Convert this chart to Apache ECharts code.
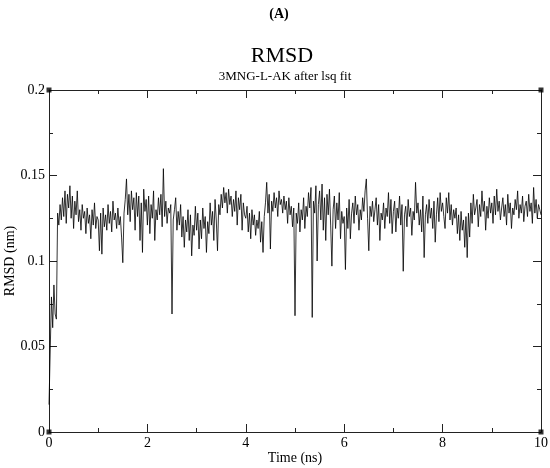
<!DOCTYPE html>
<html>
<head>
<meta charset="utf-8">
<script src="https://cdn.jsdelivr.net/npm/echarts@6/dist/echarts.min.js"></script>
<style>
  html, body { margin: 0; padding: 0; background: #fff; }
  #chart { width: 550px; height: 468px; }
</style>
</head>
<body>
<div id="chart"></div>
<script>
// RMSD trace, one value every 0.025 ns (one row = 1 ns)
const timeStep = 0.025;
const rmsd = [
  0.016, 0.048, 0.079, 0.061, 0.086, 0.069, 0.066, 0.128, 0.121, 0.133, 0.124, 0.137, 0.126, 0.141, 0.122, 0.139, 0.131, 0.144, 0.125, 0.138, 0.119, 0.135, 0.127, 0.141, 0.123, 0.130, 0.118, 0.133, 0.125, 0.129, 0.116, 0.131, 0.122, 0.127, 0.113, 0.130, 0.121, 0.134, 0.119, 0.126,
  0.124, 0.106, 0.128, 0.104, 0.131, 0.120, 0.127, 0.118, 0.133, 0.122, 0.129, 0.117, 0.135, 0.124, 0.128, 0.119, 0.131, 0.121, 0.126, 0.114, 0.099, 0.128, 0.136, 0.148, 0.127, 0.139, 0.123, 0.141, 0.130, 0.137, 0.118, 0.140, 0.126, 0.138, 0.112, 0.134, 0.105, 0.142, 0.129, 0.136,
  0.121, 0.138, 0.116, 0.133, 0.125, 0.141, 0.112, 0.130, 0.124, 0.137, 0.127, 0.139, 0.120, 0.154, 0.126, 0.135, 0.122, 0.131, 0.128, 0.133, 0.069, 0.124, 0.130, 0.137, 0.118, 0.129, 0.121, 0.133, 0.114, 0.126, 0.108, 0.124, 0.117, 0.130, 0.112, 0.127, 0.103, 0.121, 0.115, 0.132,
  0.118, 0.128, 0.107, 0.124, 0.113, 0.131, 0.119, 0.126, 0.105, 0.123, 0.116, 0.134, 0.121, 0.129, 0.112, 0.136, 0.124, 0.106, 0.133, 0.127, 0.139, 0.131, 0.143, 0.134, 0.140, 0.128, 0.142, 0.133, 0.138, 0.126, 0.136, 0.129, 0.141, 0.121, 0.137, 0.130, 0.139, 0.118, 0.134, 0.127,
  0.125, 0.132, 0.117, 0.128, 0.113, 0.130, 0.121, 0.127, 0.115, 0.124, 0.119, 0.129, 0.111, 0.123, 0.105, 0.126, 0.134, 0.146, 0.128, 0.139, 0.107, 0.135, 0.129, 0.140, 0.131, 0.137, 0.126, 0.141, 0.133, 0.136, 0.128, 0.138, 0.130, 0.135, 0.122, 0.137, 0.127, 0.132, 0.120, 0.131,
  0.068, 0.128, 0.122, 0.134, 0.117, 0.130, 0.124, 0.137, 0.119, 0.132, 0.126, 0.140, 0.131, 0.143, 0.067, 0.135, 0.128, 0.144, 0.100, 0.133, 0.141, 0.124, 0.145, 0.118, 0.137, 0.112, 0.139, 0.127, 0.142, 0.121, 0.097, 0.130, 0.138, 0.119, 0.134, 0.124, 0.140, 0.113, 0.129, 0.122,
  0.126, 0.095, 0.131, 0.119, 0.136, 0.113, 0.128, 0.134, 0.122, 0.138, 0.127, 0.133, 0.118, 0.130, 0.124, 0.137, 0.129, 0.141, 0.148, 0.125, 0.106, 0.132, 0.126, 0.135, 0.123, 0.130, 0.137, 0.121, 0.133, 0.112, 0.128, 0.124, 0.134, 0.119, 0.131, 0.126, 0.140, 0.122, 0.136, 0.116,
  0.129, 0.135, 0.117, 0.131, 0.125, 0.138, 0.121, 0.133, 0.094, 0.127, 0.132, 0.120, 0.136, 0.126, 0.131, 0.115, 0.129, 0.124, 0.146, 0.128, 0.134, 0.121, 0.130, 0.117, 0.138, 0.102, 0.127, 0.133, 0.122, 0.136, 0.125, 0.131, 0.119, 0.135, 0.111, 0.127, 0.137, 0.123, 0.140, 0.129,
  0.134, 0.126, 0.119, 0.137, 0.128, 0.140, 0.124, 0.133, 0.121, 0.130, 0.125, 0.131, 0.116, 0.127, 0.112, 0.129, 0.118, 0.124, 0.108, 0.126, 0.102, 0.128, 0.114, 0.134, 0.122, 0.139, 0.127, 0.131, 0.136, 0.120, 0.133, 0.126, 0.141, 0.129, 0.135, 0.118, 0.132, 0.125, 0.137, 0.128,
  0.134, 0.122, 0.138, 0.127, 0.142, 0.129, 0.135, 0.124, 0.131, 0.137, 0.126, 0.133, 0.121, 0.139, 0.128, 0.134, 0.119, 0.131, 0.127, 0.136, 0.130, 0.141, 0.125, 0.133, 0.128, 0.138, 0.123, 0.132, 0.135, 0.126, 0.139, 0.129, 0.134, 0.122, 0.143, 0.128, 0.136, 0.125, 0.133, 0.130,
  0.127
];
// corner markers of the frame (x, y)
const cornerX = [0, 0, 10, 10];
const cornerY = [0, 0.2, 0.2, 0];

const serif = "Liberation Serif";
const axisColor = "#222";

const traceData = rmsd.map((v, i) => [+(i * timeStep).toFixed(3), v]);
const cornerData = cornerX.map((x, i) => [x, cornerY[i]]);

const tick = { show: true, inside: true, length: 8, lineStyle: { color: axisColor, width: 1 } };
const minor = { show: true, splitNumber: 2, length: 4, lineStyle: { color: axisColor, width: 1 } };
const line = { show: true, onZero: false, lineStyle: { color: axisColor, width: 1 } };

const chart = echarts.init(document.getElementById("chart"), null, { renderer: "canvas" });
chart.setOption({
  animation: false,
  backgroundColor: "#fff",
  title: [
    { text: "(A)", left: 274, textAlign: "center", top: 2, textStyle: { fontFamily: serif, fontWeight: "bold", fontSize: 14, color: "#000" } },
    { text: "RMSD", left: 277, textAlign: "center", top: 40, textStyle: { fontFamily: serif, fontWeight: "normal", fontSize: 22, color: "#000" } },
    { text: "3MNG-L-AK after lsq fit", left: 280, textAlign: "center", top: 65, textStyle: { fontFamily: serif, fontWeight: "normal", fontSize: 13, color: "#000" } }
  ],
  grid: { left: 49, right: 9, top: 90, bottom: 36, outerBoundsMode: "none", containLabel: false },
  xAxis: [
    {
      type: "value", min: 0, max: 10, interval: 2, position: "bottom",
      name: "Time (ns)", nameLocation: "middle", nameGap: 19, nameMoveOverlap: false,
      nameTextStyle: { fontFamily: serif, fontSize: 14, color: "#000" },
      axisLine: line, axisTick: tick, minorTick: minor, splitLine: { show: false },
      axisLabel: { fontFamily: serif, fontSize: 14, color: "#000", margin: 4 }
    },
    {
      type: "value", min: 0, max: 10, interval: 2, position: "top",
      axisLine: line, axisTick: tick, minorTick: minor, splitLine: { show: false },
      axisLabel: { show: false }
    }
  ],
  yAxis: [
    {
      type: "value", min: 0, max: 0.2, interval: 0.05, position: "left",
      name: "RMSD (nm)", nameLocation: "middle", nameGap: 32, nameRotate: 90, nameMoveOverlap: false,
      nameTextStyle: { fontFamily: serif, fontSize: 14, color: "#000" },
      axisLine: line, axisTick: tick, minorTick: minor, splitLine: { show: false },
      axisLabel: { fontFamily: serif, fontSize: 14, color: "#000", margin: 4 }
    },
    {
      type: "value", min: 0, max: 0.2, interval: 0.05, position: "right",
      axisLine: line, axisTick: tick, minorTick: minor, splitLine: { show: false },
      axisLabel: { show: false }
    }
  ],
  series: [
    {
      type: "line", data: traceData, showSymbol: false, sampling: null,
      lineStyle: { color: "#000", width: 0.8 }, silent: true, z: 3
    },
    {
      type: "scatter", data: cornerData, symbol: "rect", symbolSize: 5,
      itemStyle: { color: "#000" }, clip: false, silent: true, z: 5
    }
  ]
});
</script>
</body>
</html>
